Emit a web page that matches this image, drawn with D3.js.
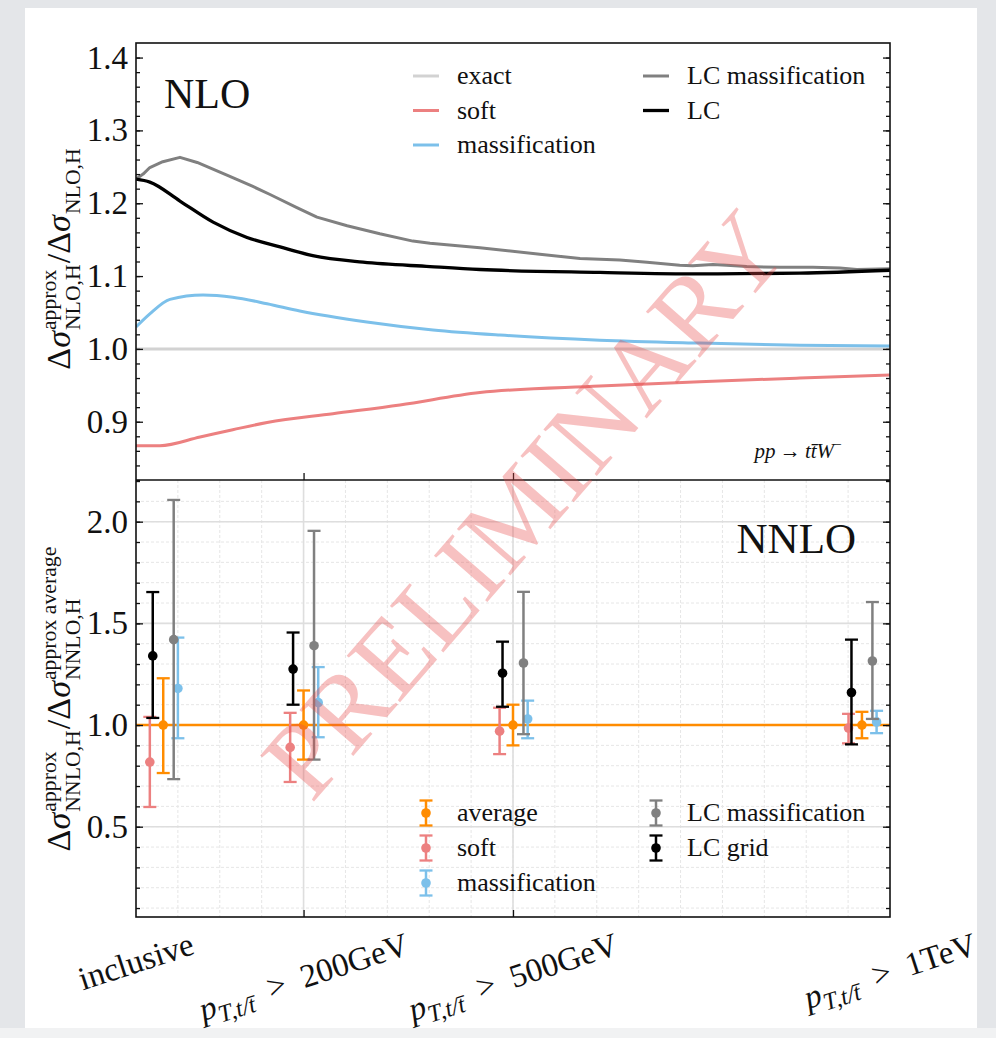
<!DOCTYPE html>
<html>
<head>
<meta charset="utf-8">
<script src="https://cdn.jsdelivr.net/npm/d3@7"></script>
<style>
    body { margin: 0; background: #e4e6e9; }
    svg { display: block; font-family: "Liberation Serif", "Times New Roman", serif; }
</style>
</head>
<body>
<svg id="chart" width="996" height="1038"></svg>
<script>
// ---- data (x axis in plot units, 0..18) ----
const categories   = ["inclusive", "200GeV", "500GeV", "1TeV"];
const catPos       = [0.65, 4, 9, 17.33];   // where the "average" bar of each group sits
const catLabelPos  = [0, 4, 9, 18];         // where the tick labels are centred

// top panel, NLO ratio curves
const exactX = [0, 18];
const exactY = [1.0, 1.0];
const softX = [0, 0.57, 1.53, 2.31, 3.13, 4.7, 6.3, 8.21, 11.07, 13.46, 15.85, 18];
const softY = [0.867, 0.867, 0.879, 0.889, 0.899, 0.911, 0.923, 0.940, 0.949, 0.955, 0.960, 0.964];
const massX = [0, 0.33, 0.81, 1.6, 2.31, 3.13, 3.91, 5.51, 7.09, 8.69, 11.07, 13.46, 15.85, 18];
const massY = [1.030, 1.048, 1.068, 1.074, 1.071, 1.062, 1.052, 1.037, 1.026, 1.019, 1.012, 1.008, 1.005, 1.004];
const lcMassX = [0, 0.02, 0.17, 0.33, 0.64, 1.05, 1.46, 2.24, 2.79, 3.2, 3.84, 4.32, 5.04, 5.82, 6.61, 7.02,
                 8.21, 9.64, 10.6, 11.55, 12.2, 12.98, 13.29, 13.77, 14.1, 14.58, 15.37, 16.16, 16.8, 17.21, 18];
const lcMassY = [1.233, 1.234, 1.240, 1.249, 1.257, 1.263, 1.256, 1.237, 1.223, 1.212, 1.194, 1.181, 1.169, 1.158, 1.148, 1.145,
                 1.139, 1.130, 1.124, 1.122, 1.119, 1.115, 1.114, 1.116, 1.115, 1.113, 1.112, 1.112, 1.111, 1.109, 1.110];
const lcX = [0, 0.33, 1.05, 1.84, 2.65, 3.44, 4.22, 5.42, 7.02, 8.21, 11.07, 13.46, 15.85, 18];
const lcY = [1.233, 1.229, 1.203, 1.174, 1.153, 1.140, 1.128, 1.119, 1.113, 1.109, 1.105, 1.103, 1.104, 1.108];

// bottom panel, NNLO ratios with error bars (one value per category)
const nnloNames   = ["average", "soft", "massification", "LC massification", "LC grid"];
const nnloOffsets = [0, -0.32, 0.35, 0.25, -0.25];
const avgVal  = [1.0, 1.0, 1.0, 1.0];
const avgLo   = [0.764, 0.83, 0.90, 0.935];
const avgHi   = [1.23, 1.17, 1.10, 1.065];
const softVal = [0.818, 0.89, 0.97, 0.985];
const softLo  = [0.597, 0.72, 0.857, 0.91];
const softHi  = [1.04, 1.06, 1.085, 1.055];
const massVal = [1.18, 1.11, 1.03, 1.015];
const massLo  = [0.935, 0.94, 0.935, 0.96];
const massHi  = [1.43, 1.285, 1.12, 1.07];
const lcMassVal = [1.42, 1.39, 1.305, 1.315];
const lcMassLo  = [0.734, 0.83, 0.955, 1.03];
const lcMassHi  = [2.107, 1.955, 1.655, 1.605];
const lcGridVal = [1.34, 1.275, 1.255, 1.16];
const lcGridLo  = [1.035, 1.10, 1.09, 0.905];
const lcGridHi  = [1.654, 1.455, 1.41, 1.42];

const topTicks = [0.9, 1.0, 1.1, 1.2, 1.3, 1.4];
const botTicks = [0.5, 1.0, 1.5, 2.0];

// ---- colours ----
const cExact = "#d2d2d2", cSoft = "#ec8080", cMass = "#7cc0ea", cLcMass = "#808080", cLc = "#000000", cAvg = "#ff8c00";

// ---- layout ----
const left = 136, right = 890;
const top1 = 43, bot1 = 480, top2 = 480, bot2 = 917;
const tickFont = 33;

const svg = d3.select("#chart");

// slide background card
svg.append("rect").attr("x", 0).attr("y", 1028).attr("width", 996).attr("height", 10).attr("fill", "#f1f2f3");
svg.append("rect").attr("x", 25).attr("y", 8).attr("width", 952).attr("height", 1020).attr("fill", "#fff");

const x  = d3.scaleLinear().domain([0, 18]).range([left, right]);
const y1 = d3.scaleLinear().domain([0.82, 1.42]).range([bot1, top1]);
const y2 = d3.scaleLinear().domain([0.056, 2.205]).range([bot2, top2]);

function styleAxis(g) {
    g.select(".domain").remove();
    g.selectAll(".tick line").attr("stroke", "#111").attr("stroke-width", 1.3);
    g.selectAll("text").attr("font-family", "Liberation Serif, serif").attr("font-size", tickFont).attr("fill", "#111");
}

function yAxes(yScale, majors, minorStep) {
    const d = yScale.domain();
    const minors = d3.range(Math.ceil(d[0] / minorStep) * minorStep, d[1], minorStep);
    svg.append("g").attr("transform", `translate(${left},0)`)
        .call(d3.axisLeft(yScale).tickValues(minors).tickSize(-4).tickFormat("")).call(styleAxis);
    svg.append("g").attr("transform", `translate(${left},0)`)
        .call(d3.axisLeft(yScale).tickValues(majors).tickSize(-7).tickPadding(8).tickFormat(d3.format(".1f"))).call(styleAxis);
    svg.append("g").attr("transform", `translate(${right},0)`)
        .call(d3.axisRight(yScale).tickValues(minors).tickSize(-4).tickFormat("")).call(styleAxis);
    svg.append("g").attr("transform", `translate(${right},0)`)
        .call(d3.axisRight(yScale).tickValues(majors).tickSize(-7).tickFormat("")).call(styleAxis);
}

// ---- bottom panel grid ----
const grid = svg.append("g");
const yMinor = d3.range(0.1, 2.2, 0.1);
grid.selectAll(".ym").data(yMinor).join("line")
    .attr("x1", left).attr("x2", right).attr("y1", d => y2(d)).attr("y2", d => y2(d))
    .attr("stroke", "#e6e6e6").attr("stroke-width", 1).attr("stroke-dasharray", "3,2");
grid.selectAll(".xm").data(d3.range(1, 18)).join("line")
    .attr("y1", top2).attr("y2", bot2).attr("x1", d => x(d)).attr("x2", d => x(d))
    .attr("stroke", "#e6e6e6").attr("stroke-width", 1).attr("stroke-dasharray", "3,2");
grid.selectAll(".yM").data(botTicks).join("line")
    .attr("x1", left).attr("x2", right).attr("y1", d => y2(d)).attr("y2", d => y2(d))
    .attr("stroke", "#dedede").attr("stroke-width", 1.6);
grid.selectAll(".xM").data([4, 9]).join("line")
    .attr("y1", top2).attr("y2", bot2).attr("x1", d => x(d)).attr("x2", d => x(d))
    .attr("stroke", "#dedede").attr("stroke-width", 1.6);

// ---- top panel curves ----
const topLines = [
    {x: exactX, y: exactY, color: cExact, w: 3, curve: d3.curveLinear},
    {x: softX, y: softY, color: cSoft, w: 3, curve: d3.curveMonotoneX},
    {x: massX, y: massY, color: cMass, w: 3, curve: d3.curveMonotoneX},
    {x: lcMassX, y: lcMassY, color: cLcMass, w: 3, curve: d3.curveLinear},
    {x: lcX, y: lcY, color: cLc, w: 3.3, curve: d3.curveMonotoneX},
];
svg.append("clipPath").attr("id", "clipTop").append("rect")
    .attr("x", left).attr("y", top1).attr("width", right - left).attr("height", bot1 - top1);
topLines.forEach(s => {
    const line = d3.line().x(i => x(s.x[i])).y(i => y1(s.y[i])).curve(s.curve);
    svg.append("path").attr("d", line(d3.range(s.x.length)))
        .attr("fill", "none").attr("stroke", s.color).attr("stroke-width", s.w)
        .attr("stroke-linejoin", "round").attr("clip-path", "url(#clipTop)");
});

// ---- bottom panel error bars ----
svg.append("line").attr("x1", left).attr("x2", right).attr("y1", y2(1)).attr("y2", y2(1))
    .attr("stroke", cAvg).attr("stroke-width", 2.6);

const nnlo = [
    {val: avgVal, lo: avgLo, hi: avgHi, color: cAvg},
    {val: softVal, lo: softLo, hi: softHi, color: cSoft},
    {val: massVal, lo: massLo, hi: massHi, color: cMass},
    {val: lcMassVal, lo: lcMassLo, hi: lcMassHi, color: cLcMass},
    {val: lcGridVal, lo: lcGridLo, hi: lcGridHi, color: cLc},
];

function errBar(g, cx, yv, ylo, yhi, color) {
    g.append("line").attr("x1", cx).attr("x2", cx).attr("y1", ylo).attr("y2", yhi)
        .attr("stroke", color).attr("stroke-width", 2.5);
    [ylo, yhi].forEach(yy => g.append("line").attr("x1", cx - 6.5).attr("x2", cx + 6.5).attr("y1", yy).attr("y2", yy)
        .attr("stroke", color).attr("stroke-width", 2.3));
    g.append("circle").attr("cx", cx).attr("cy", yv).attr("r", 4.8).attr("fill", color);
}

nnlo.forEach((s, si) => {
    const g = svg.append("g");
    categories.forEach((c, i) => {
        const cx = x(catPos[i] + nnloOffsets[si]);
        errBar(g, cx, y2(s.val[i]), y2(s.lo[i]), y2(s.hi[i]), s.color);
    });
});

// ---- axes and frames ----
yAxes(y1, topTicks, 0.02);
yAxes(y2, botTicks, 0.1);
[bot1, bot2].forEach(yy => {
    svg.append("g").attr("transform", `translate(0,${yy})`)
        .call(d3.axisBottom(x).tickValues([4, 9]).tickSize(-7).tickFormat("")).call(styleAxis);
});
svg.append("rect").attr("x", left).attr("y", top1).attr("width", right - left).attr("height", bot2 - top1)
    .attr("fill", "none").attr("stroke", "#111").attr("stroke-width", 1.6);
svg.append("line").attr("x1", left).attr("x2", right).attr("y1", bot1).attr("y2", bot1)
    .attr("stroke", "#111").attr("stroke-width", 1.6);

// ---- x tick labels (rotated) ----
const labFont = 33;
categories.forEach((c, i) => {
    const outer = svg.append("g");
    const inner = outer.append("g").attr("transform", "rotate(-18)");
    const t = inner.append("text").attr("text-anchor", "middle").attr("font-size", labFont).attr("fill", "#111");
    if (i === 0) {
        t.text(c);
    } else {
        t.append("tspan").attr("font-style", "italic").text("p");
        t.append("tspan").attr("font-style", "italic").attr("font-size", labFont * 0.74)
            .attr("dy", labFont * 0.22).text("T,t/t\u0304");
        t.append("tspan").attr("dy", -labFont * 0.22).text("\u2002>\u2002" + c);
    }
    const bb = outer.node().getBBox();
    outer.attr("transform", `translate(${x(catLabelPos[i]) - (bb.x + bb.width / 2)},${926 - bb.y})`);
});

// ---- math y labels ----
function mathRun(g, items, fs) {
    let cx = 0;
    const ss = fs * 0.64;
    items.forEach(it => {
        if (it.t) {
            const t = g.append("text").attr("x", cx).attr("font-size", fs).attr("fill", "#111")
                .attr("font-style", it.it ? "italic" : null).text(it.t);
            cx += t.node().getComputedTextLength();
        }
        let w = 0;
        if (it.sup) {
            const s = g.append("text").attr("x", cx + 1).attr("y", -fs * 0.42).attr("font-size", ss).attr("fill", "#111").text(it.sup);
            w = Math.max(w, s.node().getComputedTextLength());
        }
        if (it.sub) {
            const s = g.append("text").attr("x", cx + 1).attr("y", fs * 0.28).attr("font-size", ss).attr("fill", "#111").text(it.sub);
            w = Math.max(w, s.node().getComputedTextLength());
        }
        if (w) cx += w + 2;
    });
    return cx;
}

function yLabel(cy, items) {
    const g = svg.append("g").attr("transform", `translate(70,${cy}) rotate(-90)`);
    const inner = g.append("g");
    const w = mathRun(inner, items, 34);
    inner.attr("transform", `translate(${-w / 2},0)`);
}
yLabel((top1 + bot1) / 2 - 3, [
    {t: "\u0394"}, {t: "\u03c3", it: true, sup: "approx", sub: "NLO,H"},
    {t: "/"}, {t: "\u0394"}, {t: "\u03c3", it: true, sub: "NLO,H"}
]);
yLabel((top2 + bot2) / 2, [
    {t: "\u0394"}, {t: "\u03c3", it: true, sup: "approx", sub: "NNLO,H"},
    {t: "/"}, {t: "\u0394"}, {t: "\u03c3", it: true, sup: "approx average", sub: "NNLO,H"}
]);

// ---- panel titles ----
svg.append("text").attr("x", 164).attr("y", 108).attr("font-size", 42).attr("fill", "#111").text("NLO");
svg.append("text").attr("x", 856).attr("y", 553).attr("text-anchor", "end").attr("font-size", 43).attr("fill", "#111").text("NNLO");
const proc = svg.append("text").attr("x", 842).attr("y", 458).attr("text-anchor", "end")
    .attr("font-size", 21).attr("fill", "#111");
proc.append("tspan").attr("font-style", "italic").text("pp\u2009\u2192\u2009tt\u0304W");
proc.append("tspan").attr("font-size", 14).attr("dy", -9).text("\u2212");

// ---- legends ----
const topLegend = [
    {name: "exact", color: cExact, col: 0, row: 0},
    {name: "soft", color: cSoft, col: 0, row: 1},
    {name: "massification", color: cMass, col: 0, row: 2},
    {name: "LC massification", color: cLcMass, col: 1, row: 0},
    {name: "LC", color: cLc, col: 1, row: 1},
];
const legFont = 26;
topLegend.forEach(d => {
    const lx = d.col ? 643 : 413, ly = 76 + d.row * 34.5;
    svg.append("line").attr("x1", lx).attr("x2", lx + 26).attr("y1", ly).attr("y2", ly)
        .attr("stroke", d.color).attr("stroke-width", d.name === "LC" ? 3.3 : 3);
    svg.append("text").attr("x", lx + 44).attr("y", ly + 8).attr("font-size", legFont).attr("fill", "#111").text(d.name);
});

const botLegendPos = [[0, 0], [0, 1], [0, 2], [1, 0], [1, 1]];
nnlo.forEach((s, i) => {
    const [col, row] = botLegendPos[i];
    const mx = col ? 656 : 426, my = 813 + row * 35;
    errBar(svg.append("g"), mx, my, my + 12.5, my - 12.5, s.color);
    svg.append("text").attr("x", mx + 31).attr("y", my + 8).attr("font-size", legFont).attr("fill", "#111").text(nnloNames[i]);
});

// ---- watermark ----
svg.append("text")
    .attr("transform", "translate(524,504) rotate(-49)")
    .attr("text-anchor", "middle").attr("dominant-baseline", "central")
    .attr("font-size", 108).attr("fill", "#e84848").attr("fill-opacity", 0.34)
    .text("PRELIMINARY");
</script>
</body>
</html>
